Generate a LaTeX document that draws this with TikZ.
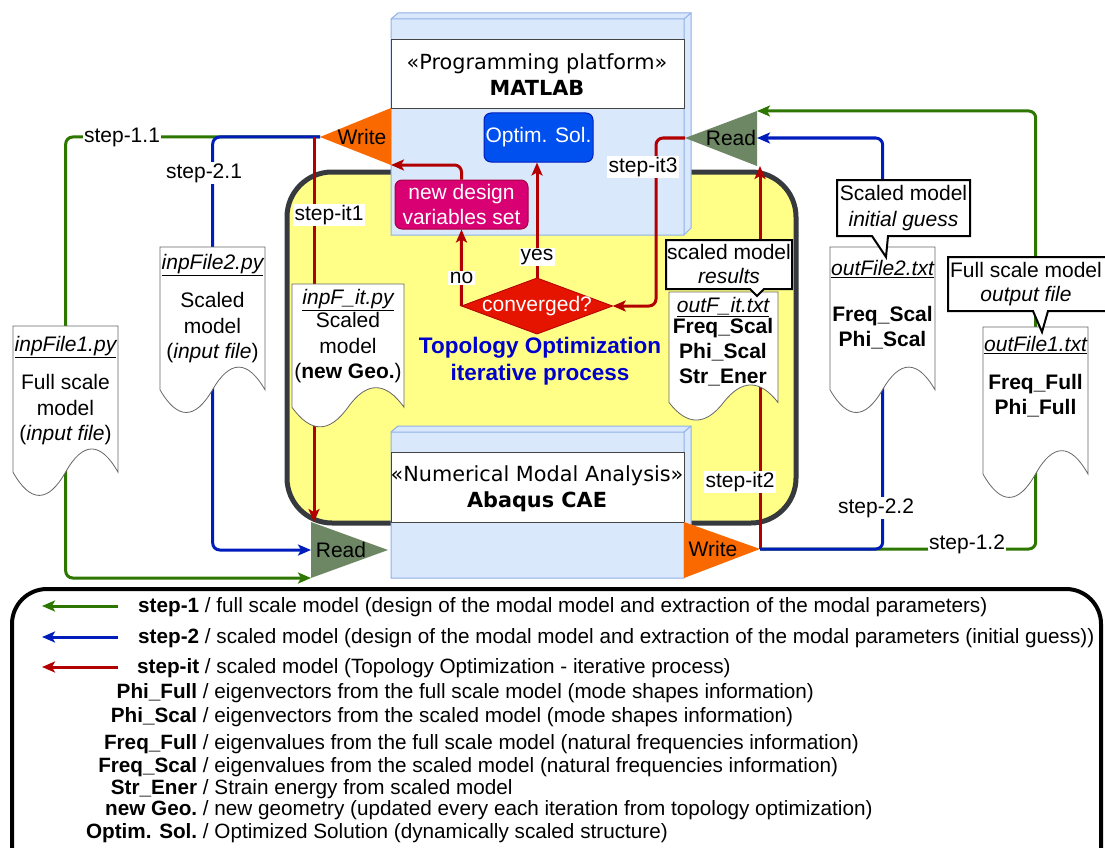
\documentclass[tikz,border=0pt]{standalone}
\usepackage{fontspec}
\setmainfont{Liberation Sans}
\newfontfamily\dejavu{DejaVu Sans}
\usetikzlibrary{arrows.meta}
\definecolor{cgreen}{HTML}{2D7600}
\definecolor{cblue}{HTML}{001DBC}
\definecolor{cred}{HTML}{B20000}
\definecolor{cyellow}{HTML}{FFFF88}
\definecolor{cdark}{HTML}{36393D}
\definecolor{cubefill}{HTML}{DAE8FC}
\definecolor{cubeline}{HTML}{8EB0E6}
\definecolor{corange}{HTML}{FA6800}
\definecolor{cread}{HTML}{6D8764}
\definecolor{coptim}{HTML}{0050EF}
\definecolor{coptimline}{HTML}{001DBC}
\definecolor{cmag}{HTML}{D80073}
\definecolor{cmagline}{HTML}{A50040}
\definecolor{cdia}{HTML}{E51400}
\definecolor{cdialine}{HTML}{B20000}
\definecolor{ctopo}{HTML}{0000CC}
\definecolor{docgray}{HTML}{666666}
\definecolor{hdrline}{HTML}{444444}
\newcommand\docnode[5]{\node[inner sep=0pt, minimum width=#4pt, minimum height=#5pt, anchor=north west] (#1) at (#2,#3) {};}
\newcommand\docdraw[4]{\draw[docstyle] (#1,#2) -- ({#1+#3},#2) -- ({#1+#3},{#2+0.85*#4}) .. controls ({#1+0.8333*#3},{#2+0.67*#4}) and ({#1+0.6667*#3},{#2+0.67*#4}) .. ({#1+0.5*#3},{#2+0.85*#4}) .. controls ({#1+0.3333*#3},{#2+1.03*#4}) and ({#1+0.1667*#3},{#2+1.03*#4}) .. (#1,{#2+0.85*#4}) -- cycle;}
\newcommand\mycube[4]{%
 \fill[cubefill] (#1,#2) -- ({#1+7},{#2-6}) -- ({#3+7},{#2-6}) -- ({#3+7},{#4-7}) -- (#3,#4) -- (#1,#4) -- cycle;
 \draw[cubeline, line width=1pt] (#1,#2) -- ({#1+7},{#2-6}) -- ({#3+7},{#2-6}) -- ({#3+7},{#4-7}) -- (#3,#4) -- (#1,#4) -- cycle;
 \draw[cubeline, line width=1pt] (#1,#2) -- (#3,#2) -- (#3,#4) (#3,#2) -- ({#3+7},{#2-6});}
\begin{document}
\begin{tikzpicture}[x=1pt,y=-1pt,
 every node/.style={font=\fontsize{21}{24}\selectfont, inner sep=0pt},
 conn/.style={line width=3pt, rounded corners=7pt},
 gline/.style={conn, draw=cgreen},
 bline/.style={conn, draw=cblue},
 rline/.style={conn, draw=cred},
 tip/.style={-{Stealth[length=13pt,width=11pt,inset=3pt]}},
 lbl/.style={fill=white, inner sep=1.5pt},
 docstyle/.style={fill=white, draw=docgray, line width=0.8pt},
 callout/.style={fill=white, draw=black, line width=2pt},
 hdr/.style={font=\dejavu\fontsize{20.8}{26}\selectfont, align=center},
 doctitle/.style={font=\fontsize{21}{24}\selectfont\itshape},
 docbody/.style={font=\fontsize{21}{25.5}\selectfont, align=center},
 legtxt/.style={font=\fontsize{20.7}{23}\selectfont, anchor=base west},
]
\useasboundingbox (0,0) rectangle (1105,848);
\clip (0,0) rectangle (1105,848);

% yellow iterative region
\draw[fill=cyellow, draw=cdark, line width=5pt, rounded corners=45pt] (287,172) rectangle (796,523);

% cubes
\mycube{391}{19}{684}{235}
\mycube{391}{432}{684}{578}
\draw[fill=white, draw=hdrline, line width=0.8pt] (391,39) rectangle (684,108);
\draw[fill=white, draw=hdrline, line width=0.8pt] (391,452) rectangle (684,522);
\node[hdr] (matlab) at (537,75) {«Programming platform»\\\textbf{MATLAB}};
\node[hdr] (abaqus) at (537,489) {«Numerical Modal Analysis»\\\textbf{Abaqus CAE}};

% triangles
\coordinate (wt) at (320,137);
\coordinate (wtt) at (391,108);
\coordinate (wtb) at (391,165);
\coordinate (rt) at (685,138);
\coordinate (rtt) at (757,111);
\coordinate (rtm) at (757,138);
\coordinate (rtb) at (757,166);
\coordinate (rbt) at (311,522);
\coordinate (rbm) at (311,550);
\coordinate (rbb) at (311,578);
\coordinate (rb) at (388,550);
\coordinate (wbt) at (684,522);
\coordinate (wbb) at (684,578);
\coordinate (wb) at (760,549);
\fill[corange] (wt) -- (wtt) -- (wtb) -- cycle;
\fill[cread] (rt) -- (rtt) -- (rtb) -- cycle;
\fill[cread] (rb) -- (rbt) -- (rbb) -- cycle;
\fill[corange] (wb) -- (wbt) -- (wbb) -- cycle;
\node (wtl) at (362,137) {Write};
\node (rtl) at (731,138) {Read};
\node (rbl) at (341,550) {Read};
\node (wbl) at (713,549) {Write};

% inner boxes
\node[fill=coptim, draw=coptimline, line width=1pt, rounded corners=7pt, minimum width=109pt, minimum height=49pt, text=white] (opt) at (538.5,137.5) {Optim. Sol.};
\node[fill=cmag, draw=cmagline, line width=1pt, rounded corners=7pt, minimum width=133pt, minimum height=49pt, text=white, align=center, font=\fontsize{21}{25}\selectfont] (nd) at (461.5,204.5) {new design\\variables set};
\fill[cdia, draw=cdialine, line width=0.8pt] (461.5,306) -- (537,278) -- (612.5,306) -- (537,334) -- cycle;
\node[minimum width=151pt, minimum height=56pt, text=white] (dia) at (537,306) {converged?};
\node[text=ctopo, font=\bfseries\fontsize{22.5}{27}\selectfont, align=center] (topo) at (540,361) {Topology Optimization\\iterative process};

% document anchors
\docnode{d1}{13}{326}{105}{172}
\docnode{d2}{160}{247}{105}{168}
\docnode{d3}{292}{284}{112}{145}
\docnode{d4}{669}{292}{109}{130}
\docnode{d5}{830}{247}{105}{168}
\docnode{d6}{983}{327}{105}{173}
\coordinate (it1s) at (314,137);
\coordinate (it1e) at (314,522);

% connectors
\draw[gline] (wt) -| (d1.center);
\draw[gline,tip] (d1.center) |- (rbb);
\draw[bline] (wt) -| (d2.center);
\draw[bline,tip] (d2.center) |- (rbm);
\draw[rline,tip] (it1s) -- (it1e);
\draw[rline,tip] (nd.north) |- (wtb);
\draw[rline,tip] (dia.west) -- (nd.south);
\draw[rline,tip] (dia.north) -- (dia.north |- opt.south);
\draw[rline,tip] (rt) -- ++(-29,0) |- (dia.east);
\draw[rline,tip] (wb) -- (wb |- rtb);
\draw[gline] (wb) -| (d6.center);
\draw[gline,tip] (d6.center) |- (rtt);
\draw[bline] (wb) -| (d5.center);
\draw[bline,tip] (d5.center) |- (rtm);

% documents
\docdraw{13}{326}{105}{172}
\docdraw{160}{247}{105}{168}
\docdraw{292}{284}{112}{145}
\docdraw{669}{292}{109}{130}
\docdraw{830}{247}{105}{168}
\docdraw{983}{327}{105}{173}
\node[doctitle] (d1t) at (65.5,347) {\underline{inpFile1.py}};
\node[docbody] (d1b) at (65.5,410) {Full scale\\model\\(\textit{input file})};
\node[doctitle] (d2t) at (212.5,265) {\underline{inpFile2.py}};
\node[docbody] (d2b) at (212.5,328) {Scaled\\model\\(\textit{input file})};
\node[doctitle] (d3t) at (348,300) {\underline{inpF\_it.py}};
\node[docbody] (d3b) at (348,348) {Scaled\\model\\(\textbf{new Geo.})};
\node[doctitle] (d4t) at (723,307) {\underline{outF\_it.txt}};
\node[docbody, font=\bfseries\fontsize{21}{25}\selectfont] (d4b) at (723,352) {Freq\_Scal\\Phi\_Scal\\Str\_Ener};
\node[doctitle] (d5t) at (882.5,269) {\underline{outFile2.txt}};
\node[docbody, font=\bfseries\fontsize{21}{25}\selectfont] (d5b) at (882.5,327.5) {Freq\_Scal\\Phi\_Scal};
\node[doctitle] (d6t) at (1035.5,345) {\underline{outFile1.txt}};
\node[docbody, font=\bfseries\fontsize{21}{25}\selectfont] (d6b) at (1035.5,395.5) {Freq\_Full\\Phi\_Full};

% callouts
\draw[callout] (837,180) -- (970,180) -- (970,236) -- (888,236) -- (886,257) -- (872,236) -- (837,236) -- cycle;
\draw[callout] (948,257) -- (1112,257) -- (1112,311) -- (1048,311) -- (1042,332) -- (1033,311) -- (948,311) -- cycle;
\draw[callout] (666,240) -- (792,240) -- (792,289) -- (764,289) -- (757,296) -- (750,289) -- (666,289) -- cycle;
\node[align=center, font=\fontsize{21}{26}\selectfont] (c1) at (903.5,208) {Scaled model\\\textit{initial guess}};
\node[align=center, font=\fontsize{21}{24}\selectfont] (c2) at (1026,284) {Full scale model\\\textit{output file}};
\node[align=center, font=\fontsize{21}{24}\selectfont] (c3) at (729,264) {scaled model\\\textit{results}};

% connector labels
\node[lbl] (l11) at (122,137) {step-1.1};
\node[lbl] (l21) at (204,173) {step-2.1};
\node[lbl] (lit1) at (329,215) {step-it1};
\node[lbl] (lno) at (461.5,278) {no};
\node[lbl] (lyes) at (537,257) {yes};
\node[lbl] (lit3) at (643,167) {step-it3};
\node[lbl] (lit2) at (740,482) {step-it2};
\node[lbl] (l22) at (876,508) {step-2.2};
\node[lbl] (l12) at (967,544) {step-1.2};

% legend
\draw[line width=4pt, rounded corners=35pt] (12,589) rectangle (1101,885);
\coordinate (g1s) at (118,606); \coordinate (g1e) at (42,606);
\coordinate (g2s) at (118,637); \coordinate (g2e) at (42,637);
\coordinate (g3s) at (118,667); \coordinate (g3e) at (42,667);
\draw[gline,tip] (g1s) -- (g1e);
\draw[bline,tip] (g2s) -- (g2e);
\draw[rline,tip] (g3s) -- (g3e);
\node[legtxt] (t1) at (199,612) {\llap{\textbf{step-1}} / full scale model (design of the modal model and extraction of the modal parameters)};
\node[legtxt] (t2) at (199,643) {\llap{\textbf{step-2}} / scaled model (design of the modal model and extraction of the modal parameters (initial guess))};
\node[legtxt] (t3) at (199,673) {\llap{\textbf{step-it}} / scaled model (Topology Optimization - iterative process)};
\node[legtxt] (t4) at (197,698) {\llap{\textbf{Phi\_Full}} / eigenvectors from the full scale model (mode shapes information)};
\node[legtxt] (t5) at (197,722) {\llap{\textbf{Phi\_Scal}} / eigenvectors from the scaled model (mode shapes information)};
\node[legtxt] (t6) at (197,749) {\llap{\textbf{Freq\_Full}} / eigenvalues from the full scale model (natural frequencies information)};
\node[legtxt] (t7) at (197,772) {\llap{\textbf{Freq\_Scal}} / eigenvalues from the scaled model (natural frequencies information)};
\node[legtxt] (t8) at (197,794) {\llap{\textbf{Str\_Ener}} / Strain energy from scaled model};
\node[legtxt] (t9) at (197,815) {\llap{\textbf{new Geo.}} / new geometry (updated every each iteration from topology optimization)};
\node[legtxt] (t10) at (197,838) {\llap{\textbf{Optim. Sol.}} / Optimized Solution (dynamically scaled structure)};
\end{tikzpicture}
\end{document}
